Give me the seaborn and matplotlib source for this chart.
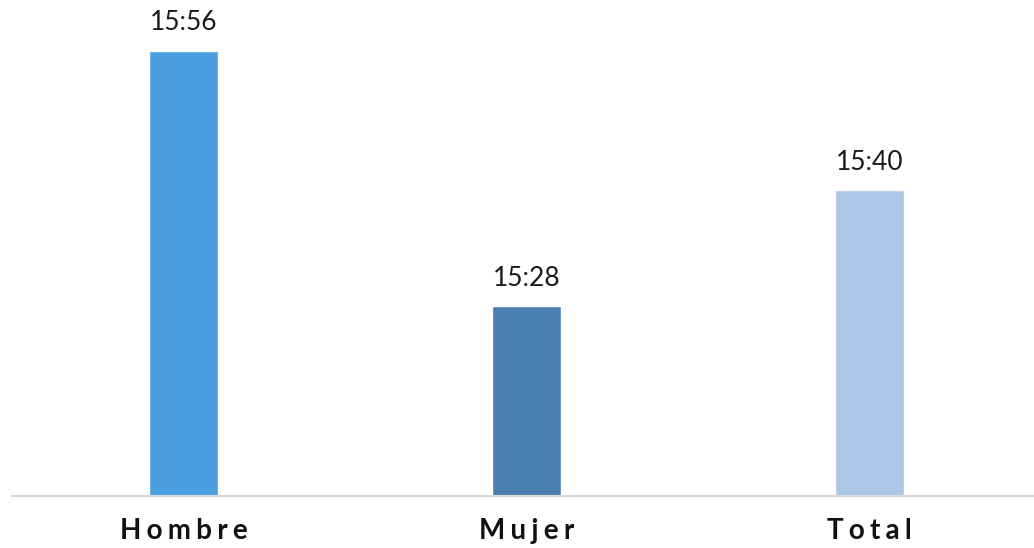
import matplotlib
matplotlib.use("Agg")
import matplotlib.pyplot as plt
import seaborn as sns
import pandas as pd

# data
categories = ["Hombre", "Mujer", "Total"]
time_labels = ["15:56", "15:28", "15:40"]
# bar heights in minutes
minutes = [956.0, 928.0, 940.7]
colors = ["#4A9FE2", "#4A7FB1", "#ADC6E5"]

df = pd.DataFrame({"categoria": categories, "minutos": minutes})

sns.set_theme(style="white")
plt.rcParams["font.family"] = ["Lato", "DejaVu Sans"]

fig = plt.figure(figsize=(10.34, 5.48), dpi=100)
ax = fig.add_axes([12 / 1034, 1 - 495.5 / 548, 1 - 12 / 1034, 490.5 / 548])

sns.barplot(
    data=df,
    x="categoria",
    y="minutos",
    hue="categoria",
    palette=colors,
    saturation=1,
    width=0.2,
    legend=False,
    ax=ax,
)

ax.set_ylim(907.3, 961)
ax.set_xlim(-0.5, 2.48)

for i, (v, lab) in enumerate(zip(df["minutos"], time_labels)):
    ax.annotate(lab, (i, v), xytext=(0, 11), textcoords="offset points",
                ha="center", va="bottom", fontsize=19, color="#1a1a1a")

spaced = ["\u2009\u200a".join(c) for c in categories]
ax.set_xticks(range(len(categories)))
ax.set_xticklabels(spaced, fontsize=20, fontweight="bold", color="#111111")
ax.tick_params(axis="x", length=0, pad=16)
ax.set_yticks([])
ax.set_xlabel("")
ax.set_ylabel("")

for side in ["top", "right", "left"]:
    ax.spines[side].set_visible(False)
ax.spines["bottom"].set_color("#D9D9D9")
ax.spines["bottom"].set_linewidth(1.5)

fig.savefig("out.png", dpi=100)
